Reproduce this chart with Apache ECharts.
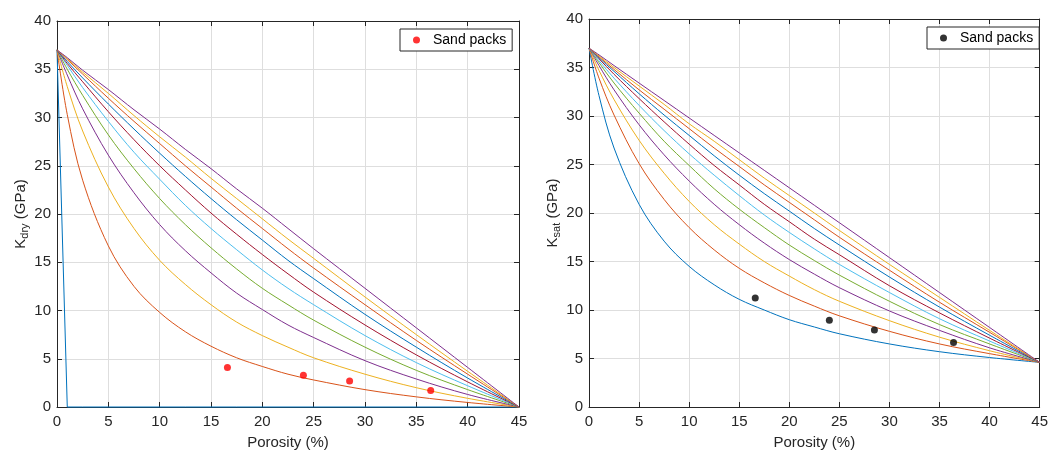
<!DOCTYPE html>
<html><head><meta charset="utf-8">
<script src="https://cdn.jsdelivr.net/npm/echarts@6/dist/echarts.min.js"></script>
<style>html,body{margin:0;padding:0;background:#fff}#c{width:1051px;height:455px}</style>
</head><body><div id="c"></div>
<script>
const porosity = [0, 1, 2.5, 5, 7.5, 10, 12.5, 15, 17.5, 20, 22.5, 25, 30, 35, 40, 45];

const kdry1  = [37, 0, 0, 0, 0, 0, 0, 0, 0, 0, 0, 0, 0, 0, 0, 0];
const kdry2  = [37, 30.3, 23.5, 16.7, 12.5, 9.8, 7.8, 6.3, 5.1, 4.2, 3.4, 2.8, 1.8, 1.05, 0.47, 0];
const kdry3  = [37, 33.2, 28.6, 22.8, 18.5, 15.2, 12.7, 10.6, 8.8, 7.4, 6.2, 5.1, 3.4, 2.0, 0.9, 0];
const kdry4  = [37, 34.4, 30.9, 26.1, 22.2, 18.9, 16.2, 13.9, 11.8, 10.1, 8.5, 7.2, 4.8, 2.9, 1.3, 0];
const kdry5  = [37, 35.0, 32.3, 28.2, 24.7, 21.6, 18.9, 16.5, 14.3, 12.3, 10.6, 9.0, 6.2, 3.8, 1.8, 0];
const kdry6  = [37, 35.4, 33.1, 29.6, 26.4, 23.6, 20.9, 18.5, 16.3, 14.2, 12.3, 10.6, 7.4, 4.6, 2.2, 0];
const kdry7  = [37, 35.6, 33.7, 30.6, 27.7, 25.0, 22.5, 20.1, 17.9, 15.8, 13.8, 11.9, 8.5, 5.4, 2.6, 0];
const kdry8  = [37, 35.8, 34.1, 31.4, 28.8, 26.3, 23.9, 21.6, 19.4, 17.3, 15.2, 13.3, 9.6, 6.2, 3.0, 0];
const kdry9  = [37, 36.0, 34.5, 32.0, 29.6, 27.3, 25.0, 22.8, 20.6, 18.5, 16.4, 14.4, 10.6, 6.9, 3.4, 0];
const kdry10 = [37, 36.1, 34.7, 32.5, 30.2, 28.0, 25.9, 23.7, 21.6, 19.5, 17.4, 15.4, 11.4, 7.5, 3.7, 0];
const kdry11 = [37, 36.2, 34.9, 32.9, 30.8, 28.8, 26.7, 24.7, 22.6, 20.6, 18.5, 16.4, 12.3, 8.2, 4.1, 0];

const ksat1  = [37, 32.1, 26.7, 20.9, 17.1, 14.5, 12.6, 11.1, 10.0, 9.0, 8.25, 7.55, 6.5, 5.7, 5.1, 4.6];
const ksat2  = [37, 33.9, 30.1, 25.1, 21.4, 18.5, 16.2, 14.3, 12.8, 11.5, 10.4, 9.4, 7.8, 6.5, 5.5, 4.6];
const ksat3  = [37, 34.7, 31.7, 27.5, 24.1, 21.2, 18.8, 16.8, 15.0, 13.5, 12.1, 10.9, 8.9, 7.2, 5.8, 4.6];
const ksat4  = [37, 35.2, 32.7, 29.1, 26.0, 23.3, 20.9, 18.8, 16.9, 15.2, 13.7, 12.3, 9.9, 7.9, 6.1, 4.6];
const ksat5  = [37, 35.5, 33.4, 30.3, 27.4, 24.9, 22.5, 20.4, 18.5, 16.7, 15.1, 13.6, 10.9, 8.5, 6.5, 4.6];
const ksat6  = [37, 35.7, 33.9, 31.1, 28.5, 26.1, 23.9, 21.8, 19.8, 18.0, 16.3, 14.7, 11.8, 9.1, 6.8, 4.6];
const ksat7  = [37, 35.9, 34.3, 31.8, 29.4, 27.1, 24.9, 22.9, 20.9, 19.1, 17.3, 15.7, 12.5, 9.7, 7.1, 4.6];
const ksat8  = [37, 36.0, 34.6, 32.3, 30.1, 28.0, 25.9, 23.9, 22.0, 20.2, 18.4, 16.7, 13.4, 10.3, 7.4, 4.6];
const ksat9  = [37, 36.1, 34.8, 32.7, 30.7, 28.7, 26.7, 24.8, 22.9, 21.1, 19.3, 17.5, 14.1, 10.8, 7.7, 4.6];
const ksat10 = [37, 36.2, 35.0, 33.1, 31.2, 29.2, 27.4, 25.5, 23.6, 21.8, 20.0, 18.2, 14.7, 11.3, 7.9, 4.6];
const ksat11 = [37, 36.3, 35.2, 33.4, 31.6, 29.8, 28.0, 26.2, 24.4, 22.6, 20.8, 19.0, 15.4, 11.8, 8.2, 4.6];

const sandPorosity = [16.6, 24.0, 28.5, 36.4];
const sandKdry = [4.1, 3.3, 2.7, 1.7];
const sandKsat = [11.25, 8.95, 7.95, 6.65];

const kdryCurves = [kdry1, kdry2, kdry3, kdry4, kdry5, kdry6, kdry7, kdry8, kdry9, kdry10, kdry11];
const ksatCurves = [ksat1, ksat2, ksat3, ksat4, ksat5, ksat6, ksat7, ksat8, ksat9, ksat10, ksat11];
const colors = ['#0072BD', '#D95319', '#EDB120', '#7E2F8E', '#77AC30', '#4DBEEE', '#A2142F',
                '#0072BD', '#D95319', '#EDB120', '#7E2F8E'];

const FONT = 'Liberation Sans, Arial, Helvetica, sans-serif';
const AX = '#262626';
const GRIDC = '#dedede';

function xAxes(gi) {
  return [{
    type: 'value', gridIndex: gi, min: 0, max: 45, interval: 5, position: 'bottom',
    name: 'Porosity (%)', nameLocation: 'middle', nameGap: 28,
    nameTextStyle: { fontFamily: FONT, fontSize: 15, color: AX },
    axisLine: { show: true, onZero: false, lineStyle: { color: AX, width: 1 } },
    axisTick: { show: true, inside: true, length: 5, lineStyle: { color: AX } },
    axisLabel: { fontFamily: FONT, fontSize: 15, color: AX, margin: 7 },
    splitLine: { show: true, lineStyle: { color: GRIDC, width: 1 } }
  }, {
    type: 'value', gridIndex: gi, min: 0, max: 45, interval: 5, position: 'top',
    axisLine: { show: true, onZero: false, lineStyle: { color: AX, width: 1 } },
    axisTick: { show: true, inside: true, length: 5, lineStyle: { color: AX } },
    axisLabel: { show: false }, splitLine: { show: false }
  }];
}
function yAxes(gi, rich) {
  return [{
    type: 'value', gridIndex: gi, min: 0, max: 40, interval: 5, position: 'left',
    name: rich, nameLocation: 'middle', nameGap: 27, nameRotate: 90,
    nameTextStyle: {
      fontFamily: FONT, fontSize: 15, color: AX,
      rich: {
        a: { fontFamily: FONT, fontSize: 15, color: AX, lineHeight: 18 },
        b: { fontFamily: FONT, fontSize: 11, color: AX, lineHeight: 18, padding: [9, 0, 0, 0] }
      }
    },
    axisLine: { show: true, onZero: false, lineStyle: { color: AX, width: 1 } },
    axisTick: { show: true, inside: true, length: 5, lineStyle: { color: AX } },
    axisLabel: { fontFamily: FONT, fontSize: 15, color: AX, margin: 6 },
    splitLine: { show: true, lineStyle: { color: GRIDC, width: 1 } }
  }, {
    type: 'value', gridIndex: gi, min: 0, max: 40, interval: 5, position: 'right',
    axisLine: { show: true, onZero: false, lineStyle: { color: AX, width: 1 } },
    axisTick: { show: true, inside: true, length: 5, lineStyle: { color: AX } },
    axisLabel: { show: false }, splitLine: { show: false }
  }];
}

const series = [];
kdryCurves.forEach((arr, i) => {
  series.push({
    type: 'line', name: 'dry' + i, xAxisIndex: 0, yAxisIndex: 0,
    data: porosity.map((p, j) => [p, arr[j]]),
    showSymbol: false, smooth: i === 0 ? false : 0.35,
    clip: false, silent: true, z: 3 + i,
    lineStyle: { color: colors[i], width: 1 }
  });
});
ksatCurves.forEach((arr, i) => {
  series.push({
    type: 'line', name: 'sat' + i, xAxisIndex: 2, yAxisIndex: 2,
    data: porosity.map((p, j) => [p, arr[j]]),
    showSymbol: false, smooth: 0.35,
    clip: false, silent: true, z: 3 + i,
    lineStyle: { color: colors[i], width: 1 }
  });
});
series.push({
  type: 'scatter', name: 'Sand packs dry', xAxisIndex: 0, yAxisIndex: 0,
  data: sandPorosity.map((p, j) => [p, sandKdry[j]]),
  symbol: 'circle', symbolSize: 7, itemStyle: { color: '#ff0000' }, z: 20
});
series.push({
  type: 'scatter', name: 'Sand packs sat', xAxisIndex: 2, yAxisIndex: 2,
  data: sandPorosity.map((p, j) => [p, sandKsat[j]]),
  symbol: 'circle', symbolSize: 7, itemStyle: { color: '#000000' }, z: 20
});

const legendBase = {
  orient: 'vertical', borderColor: AX, borderWidth: 1, backgroundColor: '#fff',
  padding: [4, 6, 4, 13], itemWidth: 7, itemHeight: 7, icon: 'circle',
  formatter: () => 'Sand packs',
  textStyle: { fontFamily: FONT, fontSize: 14, color: '#000', padding: [0, 0, 0, 8] }
};

const option = {
  animation: false,
  backgroundColor: '#fff',
  grid: [
    { left: 57, right: 532, top: 21, bottom: 44 },
    { left: 589, right: 8, top: 19, bottom: 45 }
  ],
  xAxis: [...xAxes(0), ...xAxes(1)],
  yAxis: [...yAxes(0, '{a|K}{b|dry}{a| (GPa)}'), ...yAxes(1, '{a|K}{b|sat}{a| (GPa)}')],
  legend: [
    Object.assign({}, legendBase, { left: 400, top: 29, data: ['Sand packs dry'] }),
    Object.assign({}, legendBase, { left: 927, top: 27, data: ['Sand packs sat'] })
  ],
  series
};

const chart = echarts.init(document.getElementById('c'), null, { renderer: 'canvas' });
chart.setOption(option);
</script>
</body></html>
